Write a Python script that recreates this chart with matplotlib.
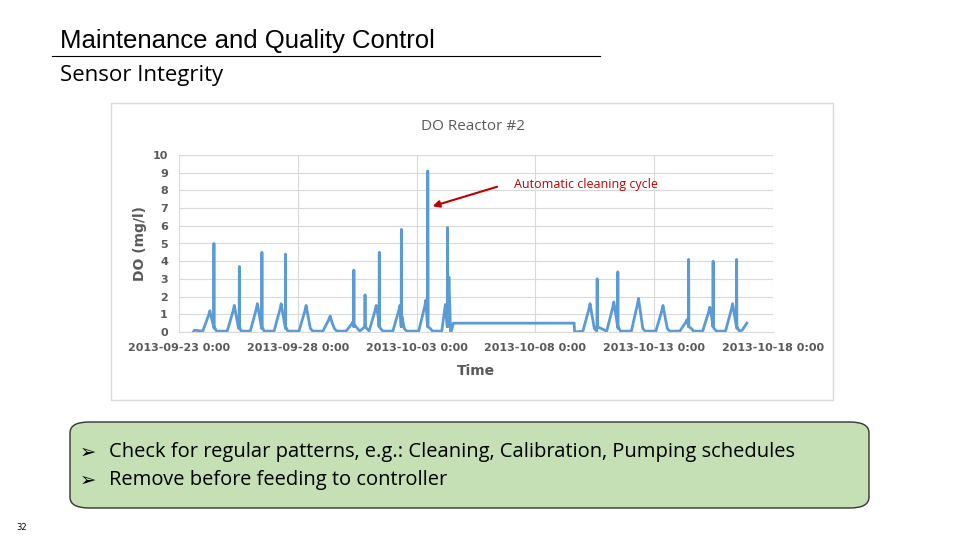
import numpy as np
import matplotlib.pyplot as plt
from matplotlib.patches import FancyBboxPatch, Rectangle
from matplotlib.lines import Line2D

# daily DO humps (day since 2013-09-23 0:00, peak mg/l)
hump_day = [1.3, 2.33, 3.3, 4.3, 5.35, 6.36, 7.33, 8.3, 9.3, 10.39, 11.36,
            17.3, 18.3, 19.34, 20.37, 21.38, 22.34, 23.3]
hump_peak = [1.2, 1.5, 1.6, 1.6, 1.5, 0.9, 0.6, 1.5, 1.5, 1.8, 3.1,
             1.6, 1.7, 1.9, 1.5, 0.7, 1.4, 1.6]
# cleaning spikes
spike_day = [1.47, 2.54, 3.49, 4.48, 7.36, 7.83, 8.43, 9.36, 10.47, 11.3,
             17.6, 18.47, 21.45, 22.48, 23.47]
spike_peak = [5.0, 3.7, 4.5, 4.4, 3.5, 2.1, 4.5, 5.8, 9.1, 5.9,
              3.0, 3.4, 4.1, 4.0, 4.1]
# sensor offline plateau
outage_start = 11.43
flat_start, flat_end, flat_value = 11.55, 16.63, 0.5
data_start, data_end, end_value = 0.6, 23.9, 0.5

tick_days = [0, 5, 10, 15, 20, 25]
tick_labels = ['2013-09-23 0:00', '2013-09-28 0:00', '2013-10-03 0:00',
               '2013-10-08 0:00', '2013-10-13 0:00', '2013-10-18 0:00']

# build the trace from the breakpoints
pts = [(data_start, 0.0), (data_start + 0.05, 0.1)]
events = [(d, 'h', v) for d, v in zip(hump_day, hump_peak)] + \
         [(d, 's', v) for d, v in zip(spike_day, spike_peak)]
events.sort()
for d, kind, v in events:
    if kind == 'h':
        pts += [(d - 0.3, 0.05), (d - 0.15, v * 0.5), (d - 0.05, v * 0.8),
                (d, v), (d + 0.08, v * 0.6), (d + 0.18, 0.2), (d + 0.28, 0.05)]
    else:
        pts += [(d - 0.01, 0.3), (d, v), (d + 0.01, 0.3)]
pts = [p for p in pts if not (outage_start <= p[0] <= flat_end + 0.05)]
pts += [(outage_start, 0.0), (outage_start + 0.02, 0.0), (flat_start, flat_value),
        (flat_end, flat_value), (flat_end + 0.02, 0.0), (23.7, 0.1), (data_end, end_value)]
pts.sort()
x = [p[0] for p in pts]
y = [p[1] for p in pts]

fig = plt.figure(figsize=(9.6, 5.4), dpi=100)
fig.patch.set_facecolor('white')

fig.text(60 / 960, 1 - 41 / 540, 'Maintenance and Quality Control', fontsize=18.5,
         family='Liberation Sans', va='center', ha='left')
fig.add_artist(Line2D([52 / 960, 600 / 960], [1 - 56 / 540] * 2, color='black', lw=0.8))
fig.text(60 / 960, 1 - 76 / 540, 'Sensor Integrity', fontsize=16,
         family='Open Sans', va='center', ha='left')
fig.add_artist(Rectangle((111 / 960, 1 - 400 / 540), 722 / 960, 297 / 540,
                         transform=fig.transFigure, fill=False, ec='#d9d9d9', lw=1))
fig.text(473 / 960, 1 - 127 / 540, 'DO Reactor #2', fontsize=11, color='#595959',
         family='Open Sans', ha='center', va='center')

ax = fig.add_axes([179 / 960, 1 - 332 / 540, 594 / 960, 177 / 540])
ax.plot(x, y, color='#5b9bd5', lw=2)
ax.set_xlim(0, 25)
ax.set_ylim(0, 10)
ax.set_yticks(range(11))
ax.set_xticks(tick_days)
ax.set_xticklabels(tick_labels)
ax.grid(True, color='#d9d9d9', lw=0.8)
ax.set_axisbelow(True)
for s in ax.spines.values():
    s.set_visible(False)
ax.spines['bottom'].set_visible(True)
ax.spines['bottom'].set_color('#d9d9d9')
ax.tick_params(length=0, labelsize=8, labelcolor='#595959', pad=8)
for t in ax.get_xticklabels() + ax.get_yticklabels():
    t.set_fontweight('bold')
ax.set_ylabel('DO (mg/l)', fontsize=10, fontweight='bold', color='#595959')
ax.set_xlabel('Time', fontsize=10, fontweight='bold', color='#595959', labelpad=8)
ax.annotate('', xy=(10.56, 7.06), xytext=(13.5, 8.25),
            arrowprops=dict(arrowstyle='-|>', color='#c00000', lw=1.5))
ax.text(14.1, 8.35, 'Automatic cleaning cycle', color='#c00000', fontsize=9,
        va='center', family='Open Sans')

fig.add_artist(FancyBboxPatch((70 / 960, 1 - 508 / 540), 799 / 960, 86 / 540,
                              boxstyle='round,pad=0,rounding_size=0.02',
                              transform=fig.transFigure, fc='#c5e0b4', ec='#333333', lw=1))
bullets = ['Check for regular patterns, e.g.: Cleaning, Calibration, Pumping schedules',
           'Remove before feeding to controller']
for i, b in enumerate(bullets):
    yy = 1 - (452 + 28 * i) / 540
    fig.text(80 / 960, yy, '➢', fontsize=14, family='DejaVu Sans', va='center')
    fig.text(109 / 960, yy, b, fontsize=14.5, family='Open Sans', va='center')
fig.text(16 / 960, 1 - 527 / 540, '32', fontsize=6, va='center')

fig.savefig('out.png', dpi=100)
